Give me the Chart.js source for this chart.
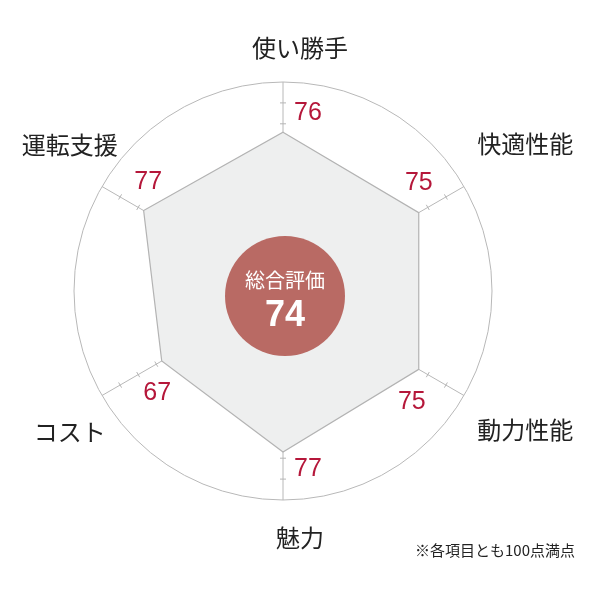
<!DOCTYPE html>
<html lang="ja">
<head>
<meta charset="utf-8">
<title>総合評価レーダーチャート</title>
<script src="https://cdn.jsdelivr.net/npm/chart.js@4.4.1/dist/chart.umd.min.js"></script>
<style>
  html, body { margin: 0; padding: 0; background: #fff; }
  #wrap { position: relative; width: 600px; height: 600px; }
</style>
</head>
<body>
<div id="wrap"><canvas id="radar"></canvas></div>
<script>
// --- data ---
const categories = ['使い勝手', '快適性能', '動力性能', '魅力', 'コスト', '運転支援'];
const scores = [76, 75, 75, 77, 67, 77];
const overallLabel = '総合評価';
const overallScore = 74;
const tickMarks = [10, 20, 30, 40, 50, 60, 70, 80, 90];
const footnote = '※各項目とも100点満点';

const JP_FONT = "'Noto Sans CJK JP', 'Noto Sans', sans-serif";
const NUM_FONT = "'Liberation Sans', Arial, sans-serif";

// nudges (px) for the category labels and the red score labels
const labelNudge = [[17, 2], [30, -25], [30, 16], [17, 2], [-1, 18], [-1, -24]];
const scoreNudge = [[25, 0], [-18, -19], [-25, 22], [25, 0], [28, 13], [19, -20]];

const radarDecor = {
    id: 'radarDecor',
    beforeDatasetsDraw(chart) {
        // small cross ticks on each axis
        const r = chart.scales.r, c = chart.ctx;
        c.save();
        c.strokeStyle = '#b5b5b5';
        c.lineWidth = 1;
        categories.forEach((_, i) => {
            const a = r.getIndexAngle(i) - Math.PI / 2;
            const px = -Math.sin(a) * 3, py = Math.cos(a) * 3;
            tickMarks.forEach(v => {
                const p = r.getPointPosition(i, r.getDistanceFromCenterForValue(v));
                c.beginPath();
                c.moveTo(p.x - px, p.y - py);
                c.lineTo(p.x + px, p.y + py);
                c.stroke();
            });
        });
        c.restore();
    },
    afterDatasetsDraw(chart) {
        const r = chart.scales.r, c = chart.ctx;
        c.save();
        // centre badge
        const cx = r.xCenter + 2, cy = r.yCenter + 5;
        c.fillStyle = '#b96a64';
        c.beginPath();
        c.arc(cx, cy, 60, 0, Math.PI * 2);
        c.fill();
        c.fillStyle = '#fff';
        c.textAlign = 'center';
        c.textBaseline = 'middle';
        c.font = `20px ${JP_FONT}`;
        c.fillText(overallLabel, cx, cy - 16);
        c.font = `bold 36px ${NUM_FONT}`;
        c.fillText(String(overallScore), cx, cy + 20);

        // red score labels
        c.fillStyle = '#b5173a';
        c.font = `25px ${NUM_FONT}`;
        scores.forEach((v, i) => {
            const p = r.getPointPosition(i, r.getDistanceFromCenterForValue(85));
            c.fillText(String(v), p.x + scoreNudge[i][0], p.y + scoreNudge[i][1]);
        });

        // category labels
        c.fillStyle = '#222';
        c.font = `24px ${JP_FONT}`;
        categories.forEach((name, i) => {
            const p = r.getPointPosition(i, r.drawingArea + 36);
            c.fillText(name, p.x + labelNudge[i][0], p.y + labelNudge[i][1]);
        });

        // footnote
        c.font = `15px ${JP_FONT}`;
        c.fillText(footnote, 495, 550);
        c.restore();
    }
};

new Chart(document.getElementById('radar'), {
    type: 'radar',
    data: {
        labels: categories,
        datasets: [{
            data: scores,
            backgroundColor: '#eeefef',
            borderColor: '#b3b3b3',
            borderWidth: 1.2,
            pointRadius: 0,
            fill: true
        }]
    },
    options: {
        responsive: true,
        maintainAspectRatio: false,
        animation: false,
        layout: { padding: { left: 74, right: 108, top: 82, bottom: 100 } },
        scales: {
            r: {
                min: 0,
                max: 100,
                angleLines: { color: '#b8b8b8', lineWidth: 1 },
                grid: { circular: true, color: '#b8b8b8', lineWidth: 1 },
                pointLabels: { display: false },
                ticks: { display: false, stepSize: 100 }
            }
        },
        plugins: {
            legend: { display: false },
            tooltip: { enabled: false }
        }
    },
    plugins: [radarDecor]
});
</script>
</body>
</html>
